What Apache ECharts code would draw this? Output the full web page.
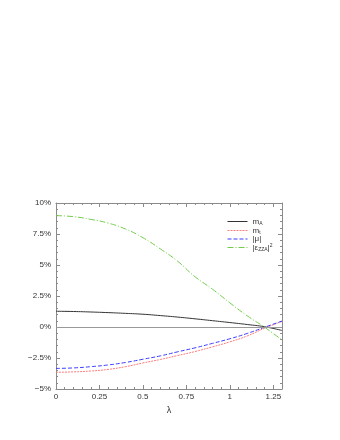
<!DOCTYPE html>
<html><head><meta charset="utf-8">
<script src="https://cdn.jsdelivr.net/npm/echarts@6/dist/echarts.min.js"></script>
<style>html,body{margin:0;padding:0;background:#fff}#c{width:340px;height:440px}</style>
</head><body><div id="c"></div>
<script>
const lambda = [0, 0.1, 0.2, 0.3, 0.4, 0.5, 0.6, 0.7, 0.8, 0.9, 1.0, 1.1, 1.2, 1.3];
const mA  = [1.27, 1.25, 1.21, 1.16, 1.10, 1.03, 0.92, 0.80, 0.66, 0.51, 0.36, 0.20, 0.02, -0.28];
const mt  = [-3.65, -3.62, -3.55, -3.42, -3.20, -2.90, -2.62, -2.30, -1.98, -1.60, -1.20, -0.72, -0.10, 0.45];
const mu  = [-3.34, -3.30, -3.20, -3.06, -2.86, -2.60, -2.33, -2.00, -1.68, -1.32, -0.95, -0.52, -0.02, 0.48];
const eps = [8.98, 8.90, 8.68, 8.38, 7.90, 7.20, 6.30, 5.30, 4.05, 3.05, 1.95, 0.90, -0.02, -1.05];
const yTicks = [-5, -2.5, 0, 2.5, 5, 7.5, 10];
const xTicks = [0, 0.25, 0.5, 0.75, 1, 1.25];

const pairs = a => lambda.map((x, i) => [x, a[i]]);
const font = 'Liberation Sans, Arial, sans-serif';
const axisColor = '#8a8a8a';
const textColor = '#333';
const fmtY = v => (v < 0 ? '\u2212' + Math.abs(v) : String(v)) + '%';

const chart = echarts.init(document.getElementById('c'), null, {renderer: 'canvas'});
const baseX = {
  type: 'value', min: 0, max: 1.3, interval: 0.25,
  axisLine: {show: true, onZero: false, lineStyle: {color: axisColor, width: 1}},
  axisTick: {show: true, inside: true, length: 4, lineStyle: {color: axisColor}},
  minorTick: {show: true, splitNumber: 5, length: 2, lineStyle: {color: axisColor}},
  splitLine: {show: false}, minorSplitLine: {show: false}
};
const baseY = {
  type: 'value', min: -5, max: 10, interval: 2.5,
  axisLine: {show: true, onZero: false, lineStyle: {color: axisColor, width: 1}},
  axisTick: {show: true, inside: true, length: 4, lineStyle: {color: axisColor}},
  minorTick: {show: true, splitNumber: 5, length: 2, lineStyle: {color: axisColor}},
  splitLine: {show: false}, minorSplitLine: {show: false}
};
const names = {
  mA: '{a|m}{s|A}',
  mt: '{a|m}{s|t}',
  mu: '{a||\u03bc|}',
  eps: '{a||\u03b5}{s|ZZA}{a||}{p|2}'
};
const mk = (name, data, color, type) => ({
  name, type: 'line', data: pairs(data), smooth: true, symbol: 'none', showSymbol: false,
  lineStyle: {color, width: 1, type}, itemStyle: {color}, z: 3
});
const s0 = mk('mA', mA, '#333', 'solid');
s0.markLine = {silent: true, symbol: 'none', label: {show: false},
  lineStyle: {color: '#999', width: 1, type: 'solid'}, data: [{yAxis: 0}]};

chart.setOption({
  animation: false,
  textStyle: {fontFamily: font},
  grid: {left: 56, right: 58, top: 203, bottom: 51},
  xAxis: [
    Object.assign({}, baseX, {position: 'bottom', name: '\u03bb', nameLocation: 'middle', nameGap: 17,
      nameTextStyle: {fontSize: 9, color: textColor, fontFamily: font},
      axisLabel: {fontSize: 8, color: textColor, margin: 4, showMaxLabel: false, fontFamily: font,
        formatter: v => xTicks.includes(+v.toFixed(2)) ? String(v) : ''}}),
    Object.assign({}, baseX, {position: 'top', axisLabel: {show: false}})
  ],
  yAxis: [
    Object.assign({}, baseY, {position: 'left',
      axisLabel: {fontSize: 8, color: textColor, margin: 5, fontFamily: font,
        formatter: v => yTicks.includes(v) ? fmtY(v) : ''}}),
    Object.assign({}, baseY, {position: 'right', axisLabel: {show: false}})
  ],
  legend: {
    orient: 'vertical', left: 222, top: 212, itemWidth: 20, itemHeight: 8, itemGap: 0,
    itemStyle: {opacity: 0},
    lineStyle: {width: 1},
    data: ['mA', 'mt', 'mu', 'eps'],
    formatter: n => names[n],
    textStyle: {
      color: textColor, fontFamily: font, fontSize: 8,
      rich: {
        a: {fontSize: 8, lineHeight: 9, color: textColor, fontFamily: font},
        s: {fontSize: 5, lineHeight: 9, color: textColor, fontFamily: font, padding: [4, 0, 0, 0]},
        p: {fontSize: 5, lineHeight: 9, color: textColor, fontFamily: font, padding: [0, 0, 4, 0]}
      }
    }
  },
  series: [
    s0,
    mk('mt', mt, '#ff7a7a', [2, 1]),
    mk('mu', mu, '#3b3bff', [4, 2]),
    mk('eps', eps, '#72cc4a', [6, 2, 1, 2])
  ]
});
</script></body></html>
